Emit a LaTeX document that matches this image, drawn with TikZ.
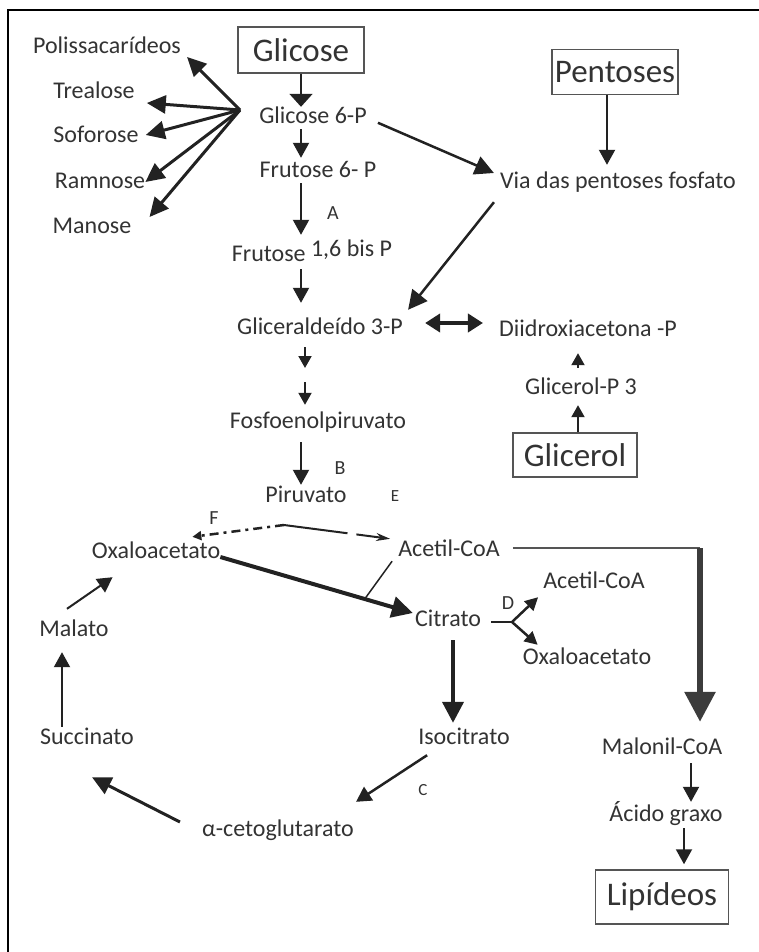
\documentclass[tikz,border=0pt]{standalone}
\usepackage{fontspec}
\setmainfont{Carlito}
\usetikzlibrary{arrows.meta}

\definecolor{txtgray}{HTML}{333333}
\definecolor{linegray}{HTML}{222222}
\definecolor{boxgray}{HTML}{555555}
\definecolor{malgray}{HTML}{3C3C3C}

\tikzset{
  met/.style={font=\fontsize{24}{28}\selectfont, text=txtgray, inner sep=0pt, text height=17pt, text depth=5pt},
  substrate/.style={draw=boxgray, line width=1.5pt, font=\fontsize{33}{38}\selectfont, text=txtgray, inner sep=0pt},
  enz/.style={font=\fontsize{20}{22}\selectfont, text=txtgray, inner sep=0pt},
  arr/.style={draw=linegray, line width=2pt, -{Triangle[width=16pt,length=15pt]}},
  smallarr/.style={draw=linegray, line width=2pt, -{Triangle[width=13pt,length=12pt]}},
  bigarr/.style={draw=linegray, line width=2.5pt, -{Triangle[width=19pt,length=19pt]}},
  fanarr/.style={draw=linegray, line width=3pt, -{Triangle[width=18pt,length=19pt]}},
  heavyarr/.style={draw=linegray, line width=4pt, -{Triangle[width=21pt,length=21pt]}},
  darr/.style={draw=linegray, line width=2.5pt, -{Triangle[width=13pt,length=13pt]}},
}

\begin{document}
\begin{tikzpicture}[x=1pt,y=-1pt]
  \useasboundingbox (0,0) rectangle (759,952);
  \draw[line width=2pt] (759,10) -- (8,10) -- (8,952);

  \node[substrate, minimum width=126pt, minimum height=46pt] (glicose) at (301,50) {Glicose};
  \node[substrate, minimum width=126pt, minimum height=45pt] (pentoses) at (615,72) {Pentoses};
  \node[substrate, minimum width=124pt, minimum height=44pt] (glicerol) at (575,455) {Glicerol};
  \node[substrate, minimum width=133pt, minimum height=54pt] (lipideos) at (662,897) {Lipídeos};

  \node[met] (polis) at (107,48) {Polissacarídeos};
  \node[met] (trealose) at (94,93) {Trealose};
  \node[met] (soforose) at (96,137) {Soforose};
  \node[met] (ramnose) at (100,182) {Ramnose};
  \node[met] (manose) at (92,227) {Manose};
  \node[met] (gseisp) at (313,118) {Glicose 6-P};
  \node[met] (fseisp) at (318,172) {Frutose 6- P};
  \node[met] (fbisp) at (312,255) {Frutose \raisebox{5pt}{1,6 bis P}};
  \node[met] (gliceral) at (320,328) {Gliceraldeído 3-P};
  \node[met] (fosfo) at (318,422) {Fosfoenolpiruvato};
  \node[met] (piruvato) at (306,496) {Piruvato};
  \node[met] (via) at (618,182) {Via das pentoses fosfato};
  \node[met] (diidroxi) at (588,330) {Diidroxiacetona -P};
  \node[met] (glicp) at (581,388) {Glicerol-P 3};
  \node[met] (oxa) at (156,552) {Oxaloacetato};
  \node[met] (acetil) at (449,550) {Acetil-CoA};
  \node[met] (citrato) at (448,620) {Citrato};
  \node[met] (acetilb) at (594,582) {Acetil-CoA};
  \node[met] (oxab) at (587,658) {Oxaloacetato};
  \node[met] (malato) at (74,630) {Malato};
  \node[met] (succinato) at (87,738) {Succinato};
  \node[met] (isocitrato) at (464,738) {Isocitrato};
  \node[met] (cetoglu) at (278,830) {α-cetoglutarato};
  \node[met] (malonil) at (662,748) {Malonil-CoA};
  \node[met] (acido) at (666,815) {Ácido graxo};

  \node[enz] (lblA) at (333,213) {A};
  \node[enz] (lblB) at (340,468) {B};
  \node[enz, font=\fontsize{17}{19}\selectfont] (lblC) at (423,790) {C};
  \node[enz] (lblD) at (508,603) {D};
  \node[enz, font=\fontsize{17}{19}\selectfont] (lblE) at (395,496) {E};
  \node[enz] (lblF) at (214,518) {F};

  \coordinate (hub) at (240,110);
  \coordinate (gapstep) at (305,375);
  \coordinate (split) at (284,525);
  \coordinate (dsplit) at (512,622);
  \coordinate (corner) at (700,548);

  \draw[fanarr] (hub) -- ([xshift=6pt,yshift=-9pt]polis.east);
  \draw[fanarr] (hub) -- ([xshift=12pt,yshift=-10pt]trealose.east);
  \draw[fanarr] (hub) -- ([xshift=7pt,yshift=2pt]soforose.east);
  \draw[fanarr] (hub) -- (ramnose.east);
  \draw[fanarr] (hub) -- ([xshift=18pt,yshift=10pt]manose.east);

  \draw[draw=linegray, line width=2pt, -{Triangle[width=23pt,length=13pt]}] (glicose.south) -- (glicose.south |- gseisp.north);
  \draw[arr, shorten >=3pt] (gseisp.south -| glicose) -- (fseisp.north -| glicose);
  \draw[arr, shorten >=9pt] (fseisp.south -| glicose) -- (fbisp.north -| glicose);
  \draw[arr, shorten <=3pt, shorten >=14pt] (fbisp.south -| glicose) -- (gliceral.north -| glicose);
  \draw[smallarr, shorten <=8pt, shorten >=7pt] (gliceral.south -| gapstep) -- (gapstep);
  \draw[smallarr, shorten <=7pt, shorten >=6pt] (gapstep) -- (fosfo.north -| gapstep);
  \draw[arr, shorten <=9pt] (fosfo.south -| glicose) -- (piruvato.north -| glicose);

  \draw[draw=linegray, line width=2.5pt, dash pattern=on 9pt off 5pt on 3pt off 5pt, -{Triangle[width=9pt,length=9pt]}] (split) -- ([xshift=-28pt,yshift=4pt]oxa.north east);
  \draw[draw=linegray, line width=2pt, dash pattern=on 64pt off 9pt on 200pt, -{Stealth[width=8pt,length=14pt]}] (split) -- ([xshift=-8pt]acetil.north west);

  \draw[heavyarr] ([yshift=-5pt]oxa.east) -- coordinate[pos=.75] (join) ([xshift=-2pt,yshift=7pt]citrato.west);
  \draw[draw=linegray, line width=1.5pt] ([xshift=-6pt]acetil.south west) -- (join);

  \draw[draw=linegray, line width=2pt, shorten <=10pt] (citrato.east |- dsplit) -- (dsplit);
  \draw[darr] (dsplit) -- ([xshift=-5pt,yshift=-4pt]acetilb.south west);
  \draw[darr] (dsplit) -- ([xshift=15pt,yshift=2pt]oxab.north west);

  \draw[draw=boxgray, line width=1.5pt, shorten <=13pt] (acetil.east |- corner) -- (corner);
  \draw[draw=malgray, line width=6pt, shorten >=15pt, -{Triangle[width=30pt,length=30pt]}] (corner) -- (corner |- malonil.north);
  \draw[arr, shorten <=4pt, shorten >=2pt] ([xshift=29pt]malonil.south) -- ([xshift=25pt]acido.north);
  \draw[arr, shorten <=2pt, shorten >=5pt] ([xshift=18pt]acido.south) -- ([xshift=22pt]lipideos.north);

  \draw[heavyarr, shorten <=9pt, shorten >=4pt] ([xshift=5pt]citrato.south) -- ([xshift=-11pt]isocitrato.north);
  \draw[arr, line width=2.5pt] ([xshift=9pt,yshift=-6pt]isocitrato.south west) -- ([xshift=2pt,yshift=17pt]cetoglu.north east);
  \draw[fanarr] ([xshift=-22pt,yshift=8pt]cetoglu.west) -- ([xshift=5pt,yshift=-28pt]succinato.south);
  \draw[arr, shorten >=11pt] ([xshift=-25pt]succinato.north) -- ([xshift=-12pt]malato.south);
  \draw[arr] ([xshift=-7pt,yshift=10pt]malato.north) -- ([xshift=21pt,yshift=-14pt]oxa.south west);

  \draw[arr, shorten >=6pt] ([xshift=-8pt]pentoses.south) -- ([xshift=-11pt]via.north);
  \draw[bigarr, shorten <=12pt] (gseisp.east) -- ([xshift=-6pt,yshift=9pt]via.west);
  \draw[bigarr] ([xshift=-6pt,yshift=-9pt]via.south west) -- ([xshift=5pt,yshift=7pt]gliceral.north east);
  \draw[draw=linegray, line width=4pt, {Triangle[width=18pt,length=15pt]}-{Triangle[width=18pt,length=15pt]}] ([xshift=22pt,yshift=5pt]gliceral.east) -- ([xshift=-16pt,yshift=7pt]diidroxi.west);
  \draw[smallarr, shorten <=9pt, shorten >=12pt] ([xshift=-3pt]glicp.north) -- ([xshift=-10pt]diidroxi.south);
  \draw[smallarr, shorten >=6pt] ([xshift=3pt]glicerol.north) -- ([xshift=-3pt]glicp.south);
\end{tikzpicture}
\end{document}
